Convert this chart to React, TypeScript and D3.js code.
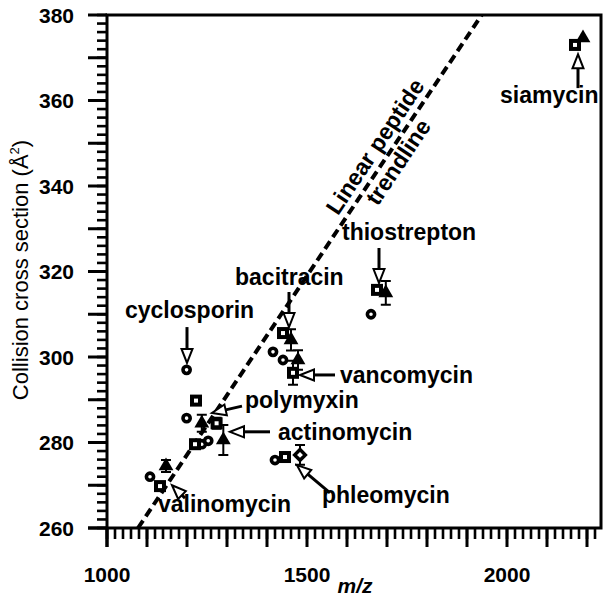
import * as d3 from "d3";

// tick values
const xLabels = [1000, 1500, 2000];
const yLabels = [260, 280, 300, 320, 340, 360, 380];

// [M+H]+ (circles)
const hAdduct = [
  { name: "valinomycin", mz: 1107.5, ccs: 272.0, err: 0 },
  { name: "cyclosporin", mz: 1199, ccs: 297.0, err: 0 },
  { name: "polymyxin", mz: 1199, ccs: 285.7, err: 0 },
  { name: "polymyxin2", mz: 1237, ccs: 279.6, err: 0 },
  { name: "actinomycin", mz: 1253, ccs: 280.4, err: 0 },
  { name: "bacitracin", mz: 1415, ccs: 301.2, err: 0 },
  { name: "phleomycin", mz: 1420, ccs: 275.9, err: 0 },
  { name: "vancomycin", mz: 1440, ccs: 299.3, err: 0 },
  { name: "thiostrepton", mz: 1660, ccs: 310.0, err: 0 },
];

// [M+Na]+ (squares)
const naAdduct = [
  { name: "valinomycin", mz: 1132.5, ccs: 269.8, err: 0 },
  { name: "polymyxin2", mz: 1220, ccs: 279.6, err: 0 },
  { name: "polymyxin", mz: 1222.5, ccs: 289.8, err: 0 },
  { name: "actinomycin", mz: 1274, ccs: 284.5, err: 1.3 },
  { name: "bacitracin", mz: 1440, ccs: 305.6, err: 0 },
  { name: "phleomycin", mz: 1445, ccs: 276.6, err: 0 },
  { name: "vancomycin", mz: 1465, ccs: 296.3, err: 2.8 },
  { name: "thiostrepton", mz: 1675, ccs: 315.7, err: 0 },
  { name: "siamycin", mz: 2170, ccs: 373.0, err: 0 },
];

// [M+K]+ (triangles)
const kAdduct = [
  { name: "valinomycin", mz: 1147.5, ccs: 274.5, err: 1.4 },
  { name: "polymyxin", mz: 1237, ccs: 284.5, err: 2 },
  { name: "actinomycin", mz: 1290.8, ccs: 280.6, err: 3.5 },
  { name: "bacitracin", mz: 1460, ccs: 304.0, err: 2.5 },
  { name: "vancomycin", mz: 1477.5, ccs: 299.3, err: 2.3 },
  { name: "thiostrepton", mz: 1697, ccs: 315.0, err: 2.8 },
  { name: "siamycin", mz: 2190, ccs: 374.6, err: 0 },
];

// other ion (diamond)
const otherIon = [{ name: "phleomycin", mz: 1482.5, ccs: 277.1, err: 2.3 }];

const trendline = [
  { mz: 1077.5, ccs: 260 },
  { mz: 1936.75, ccs: 380 },
];

const labels = [
  { text: "siamycin", mz: 1982.5, ccs: 359.4 },
  { text: "thiostrepton", mz: 1587.5, ccs: 327.4 },
  { text: "bacitracin", mz: 1320, ccs: 316.8 },
  { text: "cyclosporin", mz: 1045, ccs: 309.1 },
  { text: "vancomycin", mz: 1582.5, ccs: 293.9 },
  { text: "polymyxin", mz: 1345, ccs: 288.1 },
  { text: "actinomycin", mz: 1427.5, ccs: 280.6 },
  { text: "valinomycin", mz: 1127.5, ccs: 263.7 },
  { text: "phleomycin", mz: 1537.5, ccs: 265.8 },
];

// annotation arrows: tail -> tip
const arrows = [
  { from: [2177.5, 362.9], to: [2177.5, 370.8] },
  { from: [1680, 325.5], to: [1680, 317.3] },
  { from: [1455, 315.2], to: [1455, 307.0] },
  { from: [1200, 307.0], to: [1200, 298.6] },
  { from: [1570, 295.8], to: [1482.5, 295.8] },
  { from: [1337.5, 288.5], to: [1262.5, 286.9] },
  { from: [1407.5, 282.5], to: [1307.5, 282.5] },
  { from: [1195, 267.0], to: [1162.5, 270.0] },
  { from: [1557.5, 268.2], to: [1475, 274.7] },
];

const W = 612;
const H = 603;
const margin = { top: 15, right: 11, bottom: 75, left: 107 };
const font = "'Liberation Sans', Arial, sans-serif";

function Arrow({ ax, ay, bx, by }: { ax: number; ay: number; bx: number; by: number }) {
  const len = Math.hypot(bx - ax, by - ay);
  const ang = (Math.atan2(by - ay, bx - ax) * 180) / Math.PI;
  const head = 14;
  const hw = 5.5;
  return (
    <g transform={`translate(${ax},${ay}) rotate(${ang})`}>
      <path d={`M0,0H${len - head}`} stroke="#000" strokeWidth={3} fill="none" />
      <path
        d={`M${len},0L${len - head},${-hw}L${len - head},${hw}Z`}
        fill="#fff"
        stroke="#000"
        strokeWidth={2}
      />
    </g>
  );
}

export default function App() {
  const x = d3.scaleLinear().domain([1000, 2235]).range([margin.left, W - margin.right]);
  const y = d3.scaleLinear().domain([260, 380]).range([H - margin.bottom, margin.top]);
  const left = margin.left;
  const right = W - margin.right;
  const bottom = H - margin.bottom;
  const top = margin.top;

  const xMinor = d3.range(1000, 2236, 20);
  const xMajor = d3.range(1000, 2236, 100);
  const yMinor = d3.range(260, 381, 2);
  const yMajor = d3.range(260, 381, 10);

  // ticks as filled rectangles
  const tickRects = [
    ...xMinor.map((v) => ({ k: `xm${v}`, x: x(v) - 1.3, y: bottom, w: 2.6, h: 11 })),
    ...xMajor.map((v) => ({ k: `xM${v}`, x: x(v) - 1.5, y: bottom, w: 3, h: 19 })),
    ...yMinor.map((v) => ({ k: `ym${v}`, x: left - 10, y: y(v) - 1.3, w: 10, h: 2.6 })),
    ...yMajor.map((v) => ({ k: `yM${v}`, x: left - 19, y: y(v) - 1.5, w: 19, h: 3 })),
  ];

  const tri = d3.symbol().type(d3.symbolTriangle).size(95)() as string;

  // trendline label geometry
  const ta = trendline[0];
  const tb = trendline[1];
  const angle = (Math.atan2(y(tb.ccs) - y(ta.ccs), x(tb.mz) - x(ta.mz)) * 180) / Math.PI;
  const labMz = 1702;
  const labCcs = ta.ccs + ((labMz - ta.mz) * (tb.ccs - ta.ccs)) / (tb.mz - ta.mz);

  const errPath = (d: { mz: number; ccs: number; err: number }) =>
    `M${x(d.mz)},${y(d.ccs - d.err)}V${y(d.ccs + d.err)}` +
    `M${x(d.mz) - 5},${y(d.ccs - d.err)}h10M${x(d.mz) - 5},${y(d.ccs + d.err)}h10`;
  const withErr = [...naAdduct, ...kAdduct, ...otherIon].filter((d) => d.err > 0);

  return (
    <svg width={W} height={H} style={{ position: "absolute", left: 0, top: 0 }} fontFamily={font}>
      <rect x={0} y={0} width={W} height={H} fill="#fff" />

      <g fontSize={21} fontWeight="bold">
        {xLabels.map((v) => (
          <text key={`xl${v}`} x={x(v)} y={582} textAnchor="middle">
            {v}
          </text>
        ))}
        {yLabels.map((v) => (
          <text key={`yl${v}`} x={74} y={y(v) + 7.5} textAnchor="end">
            {v}
          </text>
        ))}
      </g>

      <text x={355} y={593} textAnchor="middle" fontSize={21} fontWeight="bold" fontStyle="italic">
        m/z
      </text>
      <text transform="translate(28,270) rotate(-90)" textAnchor="middle" fontSize={22}>
        Collision cross section (Å
        <tspan dy={-9} fontSize={13}>
          2
        </tspan>
        <tspan dy={9}>)</tspan>
      </text>

      {/* trendline */}
      <path
        d={`M${x(ta.mz)},${y(ta.ccs)}L${x(tb.mz)},${y(tb.ccs)}`}
        stroke="#000"
        strokeWidth={4}
        strokeDasharray="9,5"
        fill="none"
      />
      <g
        transform={`translate(${x(labMz)},${y(labCcs)}) rotate(${angle})`}
        fontSize={23}
        fontWeight="bold"
        textAnchor="middle"
      >
        <text x={0} y={-7.4}>
          Linear peptide
        </text>
        <text x={0} y={20.4}>
          trendline
        </text>
      </g>

      {/* error bars */}
      <path d={withErr.map(errPath).join("")} stroke="#000" strokeWidth={2} fill="none" />

      {/* markers */}
      {hAdduct.map((d, i) => (
        <circle key={`c${i}`} cx={x(d.mz)} cy={y(d.ccs)} r={3.6} fill="#fff" stroke="#000" strokeWidth={3.6} />
      ))}
      {naAdduct.map((d, i) => (
        <rect
          key={`s${i}`}
          x={x(d.mz) - 4}
          y={y(d.ccs) - 4}
          width={8}
          height={8}
          fill="#fff"
          stroke="#000"
          strokeWidth={4}
        />
      ))}
      {kAdduct.map((d, i) => (
        <path key={`t${i}`} d={tri} transform={`translate(${x(d.mz)},${y(d.ccs)})`} fill="#000" />
      ))}
      {otherIon.map((d, i) => (
        <rect
          key={`d${i}`}
          x={-3.8}
          y={-3.8}
          width={7.6}
          height={7.6}
          fill="#fff"
          stroke="#000"
          strokeWidth={3.4}
          transform={`translate(${x(d.mz)},${y(d.ccs)}) rotate(45)`}
        />
      ))}

      {/* arrows */}
      {arrows.map((a, i) => (
        <Arrow key={`a${i}`} ax={x(a.from[0])} ay={y(a.from[1])} bx={x(a.to[0])} by={y(a.to[1])} />
      ))}

      {/* labels */}
      <g fontSize={23} fontWeight="bold">
        {labels.map((l) => (
          <text key={l.text} x={x(l.mz)} y={y(l.ccs)}>
            {l.text}
          </text>
        ))}
      </g>

      {/* axes, drawn last */}
      <path
        d={`M${left},${bottom + 19}V${top}H${right}V${bottom}H${left - 19}`}
        stroke="#000"
        strokeWidth={3}
        fill="none"
      />
      {tickRects.map((t) => (
        <rect key={t.k} x={t.x} y={t.y} width={t.w} height={t.h} fill="#000" />
      ))}
    </svg>
  );
}
